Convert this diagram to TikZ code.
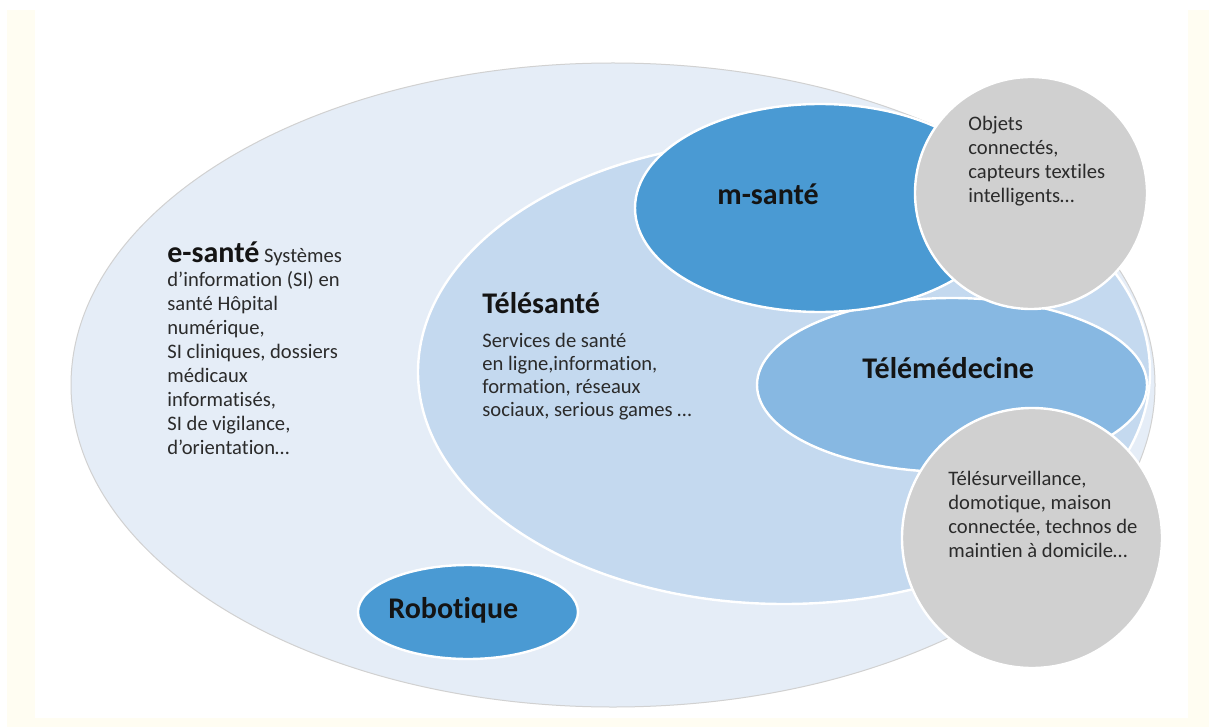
\documentclass[tikz,border=0pt]{standalone}
\usepackage{fontspec}
\setmainfont{Carlito}[Ligatures=NoCommon]
\usetikzlibrary{shapes.geometric}
\definecolor{creme}{HTML}{FFFDF2}
\definecolor{zoneE}{HTML}{E5EDF7}
\definecolor{zoneT}{HTML}{C4D9EF}
\definecolor{zoneM}{HTML}{4A9AD3}
\definecolor{zoneMed}{HTML}{87B8E2}
\definecolor{zoneG}{HTML}{D0D0D0}
\definecolor{texte}{HTML}{2B2B2B}

\begin{document}
\begin{tikzpicture}[x=0.5pt,y=-0.5pt,
        zone/.style={ellipse,inner sep=0pt,draw=white,line width=1.2pt},
        titre/.style={anchor=base west,inner sep=0pt,font=\fontsize{15}{18}\selectfont\bfseries,text=black!92},
        bloc/.style={anchor=north west,inner sep=0pt,align=left,text=texte,font=\fontsize{10.3}{12}\selectfont}]
        \useasboundingbox (0,0) rectangle (1209,727);
        \fill[creme] (7,10) rectangle (1209,727);
        \fill[white] (35,0) rectangle (1188,718);
        \node[zone,fill=zoneE,draw=black!18,line width=0.5pt,minimum width=542pt,minimum height=322pt] (esante) at (613,385) {};
        \node[zone,fill=zoneT,minimum width=366pt,minimum height=232pt] (telesante) at (784,372) {};
        \node[zone,fill=zoneMed,minimum width=195pt,minimum height=87pt] (telemed) at (952,385) {};
        \node[zone,fill=zoneM,minimum width=185pt,minimum height=104pt] (msante) at (820,208) {};
        \node[zone,circle,fill=zoneG,minimum size=116pt] (objets) at (1031,193) {};
        \node[zone,circle,fill=zoneG,minimum size=130pt] (domicile) at (1032,538) {};
        \node[zone,fill=zoneM,minimum width=110pt,minimum height=47pt] (robot) at (468,612) {};
        \node[bloc] (esante-txt) at (167,241) {{\fontsize{15}{18}\selectfont\bfseries\color{black!92}e-santé} Systèmes\\d’information (SI) en\\santé Hôpital\\numérique,\\SI cliniques, dossiers\\médicaux\\informatisés,\\SI de vigilance,\\d’orientation\ldots};
        \node[titre] (telesante-titre) at (482,313) {Télésanté};
        \node[bloc,font=\fontsize{10.3}{11.5}\selectfont] (telesante-txt) at (482,333) {Services de santé\\en ligne,information,\\formation, réseaux\\sociaux, serious games \ldots};
        \node[titre] (msante-titre) at (717,205) {m-santé};
        \node[titre] (telemed-titre) at (862,378) {Télémédecine};
        \node[titre] (robot-titre) at (388,618) {Robotique};
        \node[bloc] (objets-txt) at (968,116) {Objets\\connectés,\\capteurs textiles\\intelligents\ldots};
        \node[bloc] (domicile-txt) at (948,471) {Télésurveillance,\\domotique, maison\\connectée, technos de\\maintien à domicile\ldots};
\end{tikzpicture}
\end{document}
